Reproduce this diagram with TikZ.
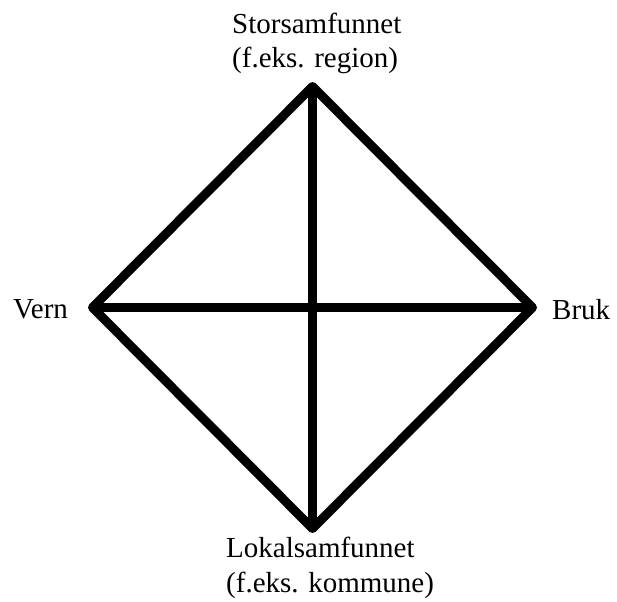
\documentclass[tikz,border=0pt]{standalone}
\usepackage{fontspec}
\setmainfont{Liberation Serif}
\begin{document}
\begin{tikzpicture}[x=1pt,y=-1pt,
  edge/.style={line width=9pt,line join=round,black},
  lbl/.style={inner sep=0pt,font=\fontsize{29}{34}\selectfont}]
\useasboundingbox (0,0) rectangle (617,601);
\coordinate (T) at (312.5,86.5);
\coordinate (L) at (92.5,307.5);
\coordinate (R) at (532.5,307.5);
\coordinate (B) at (312.5,528.5);
\draw[edge] (T) -- (R) -- (B) -- (L) -- cycle;
\draw[edge] (T) -- (B);
\draw[edge] (L) -- (R);
\node[lbl,anchor=base west] (t1) at (232,34) {Storsamfunnet};
\node[lbl,anchor=base west] (t2) at (232,68) {(f.eks. region)};
\node[lbl,anchor=base west] (vl) at (13,318) {Vern};
\node[lbl,anchor=base west] (bl) at (552,319) {Bruk};
\node[lbl,anchor=base west] (b1) at (226,557) {Lokalsamfunnet};
\node[lbl,anchor=base west] (b2) at (226,592) {(f.eks. kommune)};
\end{tikzpicture}
\end{document}
